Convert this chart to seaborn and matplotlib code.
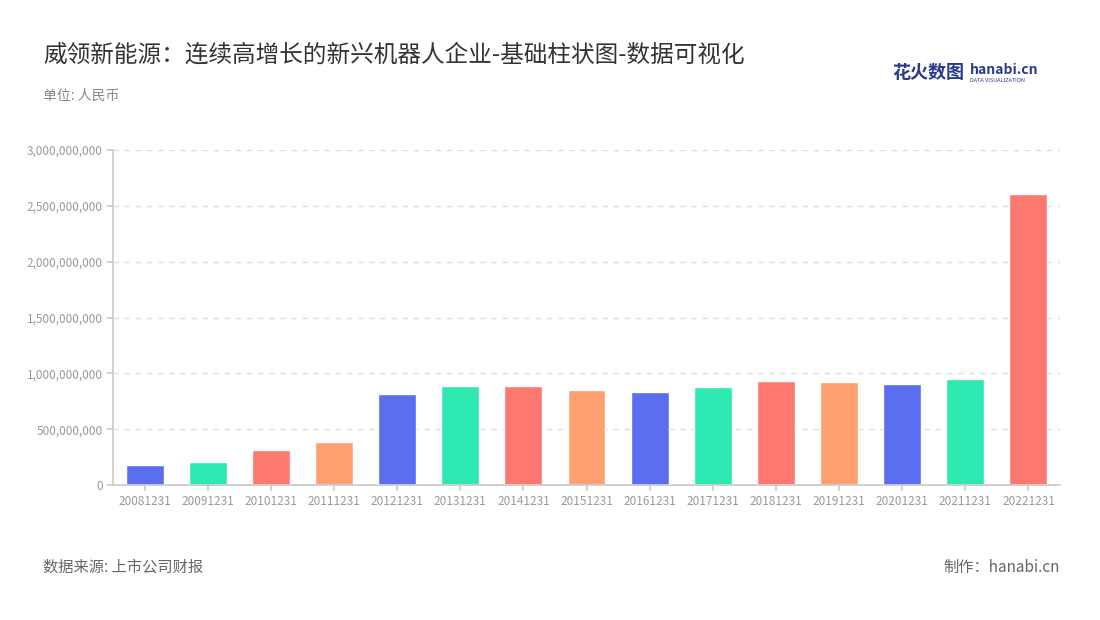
import matplotlib
matplotlib.use("Agg")
from matplotlib import pyplot as plt
import seaborn as sns
import pandas as pd

years = ["20081231", "20091231", "20101231", "20111231", "20121231", "20131231", "20141231",
         "20151231", "20161231", "20171231", "20181231", "20191231", "20201231", "20211231", "20221231"]
values = [180e6, 206e6, 313e6, 385e6, 815e6, 886e6, 886e6, 850e6, 833e6, 877e6,
          931e6, 922e6, 904e6, 949e6, 2605e6]
palette = ["#5b6ef0", "#2de8b0", "#ff7870", "#ffa070"]

df = pd.DataFrame({"year": years, "value": values})
colors = [palette[i % 4] for i in range(len(years))]

sns.set_theme(style="white")
plt.rcParams['font.family'] = ['Noto Sans CJK SC', 'DejaVu Sans']

fig = plt.figure(figsize=(11, 6.2), dpi=100)
ax = fig.add_axes([113 / 1100, 1 - 485 / 620, 947 / 1100, 335 / 620])
sns.barplot(data=df, x="year", y="value", hue="year", palette=colors, legend=False,
            width=0.6, ax=ax, saturation=1)

ax.set_ylim(0, 3e9)
ticks = [0, 5e8, 1e9, 1.5e9, 2e9, 2.5e9, 3e9]
ax.set_yticks(ticks)
ax.set_yticklabels([f"{int(t):,}" for t in ticks], fontsize=8.5, color="#999999")
ax.tick_params(axis="x", labelsize=8.5, labelcolor="#999999", length=4, color="#cccccc")
ax.tick_params(axis="y", length=4, color="#cccccc", left=True)
ax.tick_params(axis="x", bottom=True)
ax.yaxis.grid(True, linestyle=(0, (4, 4)), color="#dddddd")
ax.set_axisbelow(True)
for s in ["top", "right"]:
    ax.spines[s].set_visible(False)
ax.spines["left"].set_color("#cccccc")
ax.spines["bottom"].set_color("#cccccc")
ax.set_xlabel("")
ax.set_ylabel("")
ax.set_xlim(-0.5, len(years) - 0.5)

fig.text(43 / 1100, 1 - 55 / 620, "威领新能源：连续高增长的新兴机器人企业-基础柱状图-数据可视化",
         fontsize=17, color="#333333", va="center")
fig.text(43 / 1100, 1 - 96 / 620, "单位: 人民币", fontsize=10, color="#888888", va="center")
fig.text(43 / 1100, 1 - 567 / 620, "数据来源: 上市公司财报", fontsize=11, color="#666666", va="center")
fig.text(1060 / 1100, 1 - 567 / 620, "制作：hanabi.cn", fontsize=11, color="#666666",
         va="center", ha="right")
fig.text(892 / 1100, 1 - 72 / 620, "花火数图", fontsize=13, color="#2a3a8c",
         fontweight="bold", va="center")
fig.text(970 / 1100, 1 - 70 / 620, "hanabi.cn", fontsize=10, color="#2a3a8c",
         fontweight="bold", va="center")
fig.text(970 / 1100, 1 - 80 / 620, "DATA VISUALIZATION", fontsize=4, color="#2a3a8c", va="center")

fig.savefig("out.png", dpi=100)
